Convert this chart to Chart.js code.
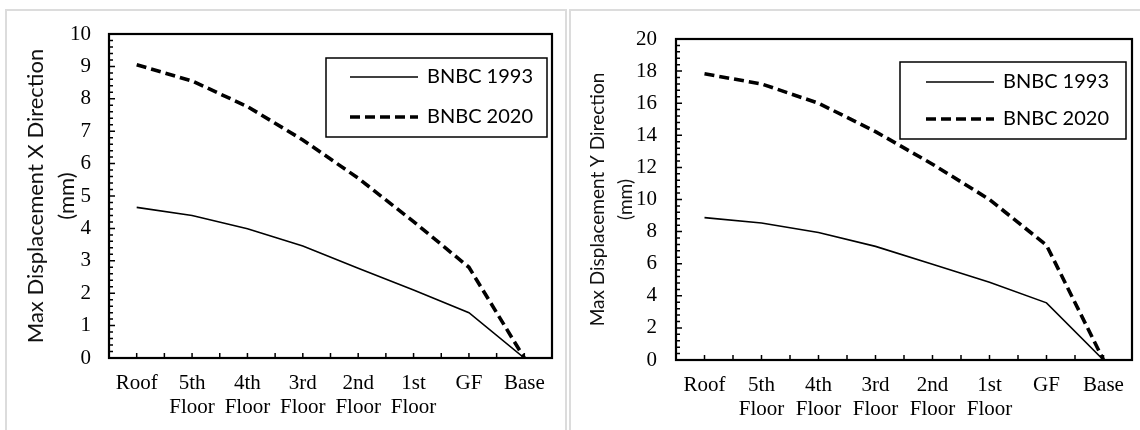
<!DOCTYPE html>
<html>
<head>
<meta charset="utf-8">
<script src="https://cdn.jsdelivr.net/npm/chart.js@4.4.0/dist/chart.umd.min.js"></script>
<style>
  body { margin: 0; background: #fff; width: 1140px; height: 430px; overflow: hidden; position: relative; }
  .panel { position: absolute; top: 9px; height: 440px; border: 2px solid #dcdcdc; box-sizing: border-box; }
  #p1 { left: 5px; width: 562px; }
  #p2 { left: 569px; width: 600px; }
  canvas { position: absolute; top: 0; }
  #chartX { left: 0; }
  #chartY { left: 570px; }
</style>
</head>
<body>
<div class="panel" id="p1"></div>
<div class="panel" id="p2"></div>
<canvas id="chartX" width="566" height="430"></canvas>
<canvas id="chartY" width="570" height="430"></canvas>
<script>
// Kat etiketleri (x ekseni)
const floors = ['Roof', ['5th', 'Floor'], ['4th', 'Floor'], ['3rd', 'Floor'], ['2nd', 'Floor'], ['1st', 'Floor'], 'GF', 'Base'];
const seriesNames = ['BNBC 1993', 'BNBC 2020'];

// X yönü yer değiştirme (mm)
const dispX1993 = [4.65, 4.40, 3.99, 3.46, 2.77, 2.10, 1.40, 0];
const dispX2020 = [9.05, 8.55, 7.76, 6.73, 5.55, 4.21, 2.80, 0];

// Y yönü yer değiştirme (mm)
const dispY1993 = [8.87, 8.54, 7.94, 7.08, 5.96, 4.85, 3.56, 0];
const dispY2020 = [17.83, 17.20, 16.00, 14.23, 12.20, 10.00, 7.15, 0];

// Eksen çerçevesi + içe bakan tik işaretleri
const framePlugin = {
  id: 'frame',
  afterDatasetsDraw(chart, args, opts) {
    const { ctx, chartArea: a, scales: { x, y } } = chart;
    ctx.save();
    ctx.strokeStyle = '#000';
    ctx.lineWidth = 1.5;
    ctx.beginPath();
    const n = Math.round((y.max - y.min) / opts.minorStep);
    for (let k = 0; k <= n; k++) {
      const py = y.getPixelForValue(y.min + k * opts.minorStep);
      const len = k % 5 === 0 ? 6 : 4;
      ctx.moveTo(a.left, py);
      ctx.lineTo(a.left + len, py);
    }
    for (let i = -0.5; i <= x.max + 0.5; i += 0.5) {
      const px = x.getPixelForValue(i);
      ctx.moveTo(px, a.bottom);
      ctx.lineTo(px, a.bottom - 5);
    }
    ctx.stroke();
    ctx.lineWidth = 2.2;
    ctx.strokeRect(a.left, a.top, a.right - a.left, a.bottom - a.top);
    ctx.restore();
  }
};

// Çerçeveli lejant (grafik alanının içinde, sağ üstte)
const boxLegend = {
  id: 'boxLegend',
  afterDraw(chart, args, o) {
    const { ctx, chartArea: a } = chart;
    const bx = a.right - o.right - o.width;
    const by = a.top + o.top;
    ctx.save();
    ctx.fillStyle = '#fff';
    ctx.fillRect(bx, by, o.width, o.height);
    ctx.lineWidth = 1.5;
    ctx.strokeStyle = '#000';
    ctx.strokeRect(bx, by, o.width, o.height);
    ctx.font = o.font;
    ctx.fillStyle = '#000';
    ctx.textBaseline = 'middle';
    chart.data.datasets.forEach((ds, i) => {
      const ry = by + o.rows[i];
      ctx.lineWidth = ds.borderWidth;
      ctx.setLineDash(ds.borderDash || []);
      ctx.beginPath();
      ctx.moveTo(bx + o.lineX, ry);
      ctx.lineTo(bx + o.lineX + o.lineLen, ry);
      ctx.stroke();
      ctx.setLineDash([]);
      ctx.fillText(ds.label, bx + o.textX, ry);
    });
    ctx.restore();
  }
};

function makeChart(id, d1993, d2020, cfg) {
  return new Chart(document.getElementById(id), {
    type: 'line',
    data: {
      labels: floors,
      datasets: [{
        label: seriesNames[0],
        data: d1993,
        borderColor: '#000',
        borderWidth: 1.6,
        pointRadius: 0,
        tension: 0
      }, {
        label: seriesNames[1],
        data: d2020,
        borderColor: '#000',
        borderWidth: 3.6,
        borderDash: [10, 5],
        pointRadius: 0,
        tension: 0
      }]
    },
    options: {
      responsive: false,
      animation: false,
      layout: { padding: cfg.padding },
      plugins: {
        legend: { display: false },
        tooltip: { enabled: false },
        frame: { minorStep: cfg.minorStep },
        boxLegend: cfg.legend
      },
      scales: {
        x: {
          offset: true,
          grid: { display: false, drawTicks: false },
          border: { display: false },
          ticks: {
            color: '#000',
            autoSkip: false,
            maxRotation: 0,
            padding: 13,
            font: { family: 'Liberation Serif', size: 21, lineHeight: 1.15 }
          },
          afterFit: s => { s.height = cfg.xHeight; }
        },
        y: {
          min: 0,
          max: cfg.yMax,
          grid: { display: false, drawTicks: false },
          border: { display: false },
          ticks: {
            stepSize: cfg.yStep,
            color: '#000',
            padding: cfg.tickPad,
            font: { family: 'Liberation Serif', size: 21 }
          },
          title: {
            display: true,
            text: cfg.title,
            color: '#111',
            padding: { top: cfg.titlePad, bottom: 0 },
            font: { family: 'Lato', size: cfg.titleSize, lineHeight: cfg.titleLH }
          },
          afterFit: s => { s.width = cfg.yWidth; }
        }
      }
    },
    plugins: [framePlugin, boxLegend]
  });
}

makeChart('chartX', dispX1993, dispX2020, {
  padding: { left: 0, top: 34, right: 14, bottom: 0 },
  yWidth: 109, xHeight: 72,
  yMax: 10, yStep: 1, minorStep: 0.2,
  tickPad: 18,
  title: ['Max Displacement X Direction', '(mm)'],
  titleSize: 22, titleLH: 1.4, titlePad: 20.5,
  legend: { right: 5, top: 24, width: 221, height: 79, rows: [19, 59], lineX: 24, lineLen: 68, textX: 101, font: '20px Lato' }
});

makeChart('chartY', dispY1993, dispY2020, {
  padding: { left: 0, top: 39, right: 8, bottom: 0 },
  yWidth: 106, xHeight: 70,
  yMax: 20, yStep: 2, minorStep: 0.4,
  tickPad: 19,
  title: ['Max Displacement Y Direction', '(mm)'],
  titleSize: 19, titleLH: 1.47, titlePad: 14,
  legend: { right: 6, top: 23, width: 226, height: 77, rows: [20, 57], lineX: 26, lineLen: 68, textX: 103, font: '20px Lato' }
});
</script>
</body>
</html>
